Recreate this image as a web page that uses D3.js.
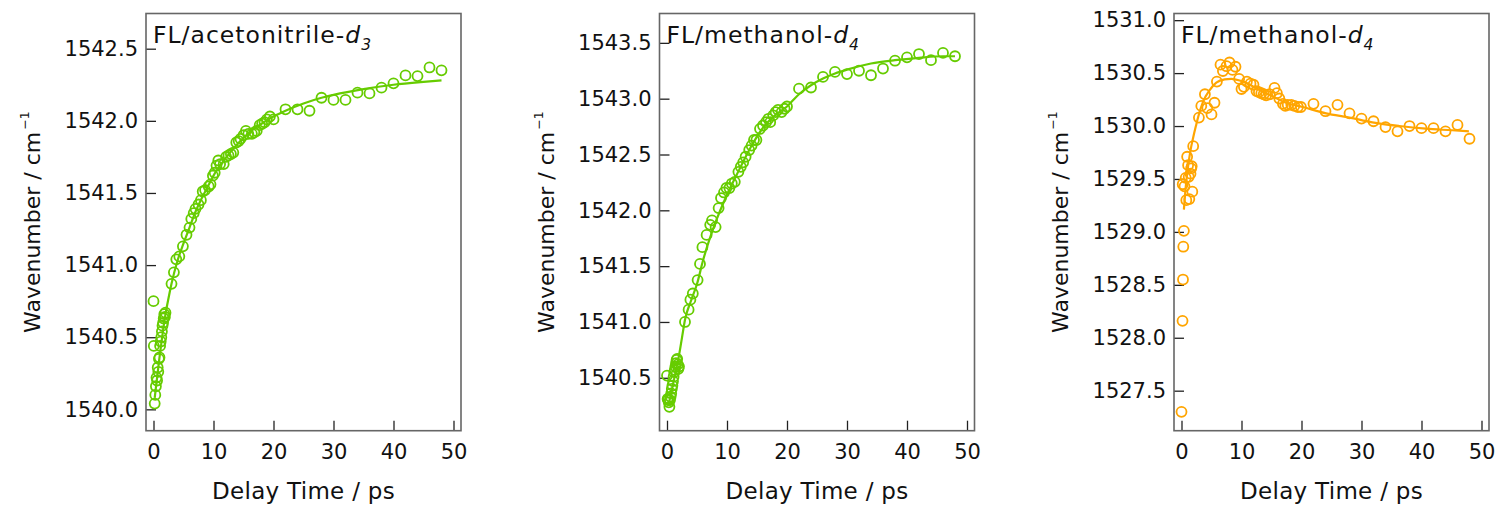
<!DOCTYPE html>
<html>
<head>
<meta charset="utf-8">
<script src="https://cdn.jsdelivr.net/npm/d3@7"></script>
<style>
  html, body { margin: 0; padding: 0; background: #fff; }
  svg { display: block; }
  text { font-family: "DejaVu Sans", sans-serif; fill: #111; }
</style>
</head>
<body>
<svg id="chart" width="1500" height="508"></svg>
<script>
// ---------------- DATA ----------------
const xTicks = [0, 10, 20, 30, 40, 50];

// Panel 1: FL / acetonitrile-d3
const acnTime = [0, 0.05, 0.2, 0.3, 0.4, 0.5, 0.6, 0.7, 0.8, 0.9, 1.0, 1.1, 1.2, 1.3, 1.4, 1.5, 1.6, 1.7, 1.8, 1.9, 2.0,
  3.0, 3.4, 3.8, 4.3, 4.9, 5.5, 6.0, 6.3, 6.7, 7.0, 7.5, 7.9, 8.2, 8.6, 9.2, 9.5, 9.9, 10.2, 10.5, 10.8,
  11.1, 11.7, 12.1, 12.5, 12.9, 13.3, 13.8, 14.2, 14.5, 15.0, 15.4, 15.8, 16.4, 16.8, 17.2, 17.7, 18.1, 18.5, 18.9, 19.4, 20.0,
  22, 24, 26, 28, 30, 32, 34, 36, 38, 40, 42, 44, 46, 48];
const acnValue = [1540.75, 1540.44, 1540.04, 1540.10, 1540.16, 1540.22, 1540.20, 1540.29, 1540.26, 1540.35, 1540.36, 1540.44, 1540.47, 1540.50, 1540.54, 1540.58, 1540.60, 1540.63, 1540.66, 1540.64, 1540.67,
  1540.87, 1540.95, 1541.04, 1541.06, 1541.13, 1541.21, 1541.26, 1541.32, 1541.36, 1541.39, 1541.42, 1541.45, 1541.51, 1541.52, 1541.545, 1541.56, 1541.62, 1541.64, 1541.69, 1541.725,
  1541.70, 1541.70, 1541.75, 1541.76, 1541.77, 1541.78, 1541.85, 1541.86, 1541.875, 1541.90, 1541.93, 1541.91, 1541.91, 1541.92, 1541.93, 1541.97, 1541.98, 1541.99, 1542.01, 1542.03, 1542.01,
  1542.08, 1542.08, 1542.07, 1542.16, 1542.145, 1542.145, 1542.195, 1542.19, 1542.23, 1542.26, 1542.315, 1542.31, 1542.37, 1542.35];
const acnFitTime = [0.2, 0.6, 1.0, 1.5, 2.0, 2.5, 3, 4, 5, 6, 7, 8, 9, 10, 12, 14, 16, 18, 20, 22, 25, 28, 30, 35, 40, 45, 48];
const acnFitValue = [1540.08, 1540.22, 1540.36, 1540.52, 1540.66, 1540.77, 1540.87, 1541.03, 1541.15, 1541.26, 1541.37, 1541.46, 1541.54, 1541.62, 1541.74, 1541.84, 1541.92, 1541.98, 1542.03, 1542.07, 1542.12, 1542.16, 1542.18, 1542.22, 1542.25, 1542.27, 1542.28];
const acnYTicks = [1540.0, 1540.5, 1541.0, 1541.5, 1542.0, 1542.5];

// Panel 2: FL / methanol-d4 (green)
const meoTime = [0, 0.1, 0.2, 0.3, 0.4, 0.5, 0.6, 0.7, 0.8, 0.9, 1.0, 1.1, 1.2, 1.3, 1.4, 1.5, 1.6, 1.7, 1.8, 1.9, 2.0,
  3.0, 3.6, 3.9, 4.3, 5.1, 5.5, 5.9, 6.6, 7.2, 7.5, 8.1, 8.6, 9.0, 9.5, 9.9, 10.4, 10.8, 11.3, 11.9, 12.3,
  12.7, 13.1, 13.7, 14.1, 14.5, 14.9, 15.5, 16.0, 16.5, 16.9, 17.2, 17.7, 18.1, 18.5, 19.1, 19.6, 20.0,
  22, 24, 26, 28, 30, 32, 34, 36, 38, 40, 42, 44, 46, 48];
const meoValue = [1540.52, 1540.31, 1540.30, 1540.28, 1540.24, 1540.30, 1540.33, 1540.36, 1540.40, 1540.43, 1540.47, 1540.51, 1540.55, 1540.57, 1540.60, 1540.63, 1540.66, 1540.67, 1540.62, 1540.58, 1540.60,
  1541.00, 1541.11, 1541.20, 1541.255, 1541.375, 1541.52, 1541.67, 1541.78, 1541.87, 1541.91, 1541.85, 1542.02, 1542.11, 1542.16, 1542.20, 1542.20, 1542.24, 1542.255, 1542.345, 1542.39,
  1542.43, 1542.48, 1542.54, 1542.58, 1542.63, 1542.63, 1542.73, 1542.76, 1542.79, 1542.82, 1542.79, 1542.85, 1542.88, 1542.90, 1542.88, 1542.91, 1542.93,
  1543.09, 1543.10, 1543.195, 1543.24, 1543.22, 1543.25, 1543.21, 1543.27, 1543.34, 1543.37, 1543.40, 1543.345, 1543.41, 1543.38];
const meoFitTime = [0.2, 0.6, 1.0, 1.5, 2.0, 2.5, 3, 4, 5, 6, 8, 10, 12, 14, 16, 18, 20, 22, 24, 26, 28, 30, 34, 38, 42, 46, 48];
const meoFitValue = [1540.25, 1540.34, 1540.44, 1540.57, 1540.70, 1540.86, 1541.02, 1541.19, 1541.34, 1541.55, 1541.88, 1542.14, 1542.36, 1542.57, 1542.74, 1542.85, 1542.93, 1543.04, 1543.12, 1543.18, 1543.225, 1543.26, 1543.315, 1543.345, 1543.366, 1543.38, 1543.38];
const meoYTicks = [1540.5, 1541.0, 1541.5, 1542.0, 1542.5, 1543.0, 1543.5];

// Panel 3: FL / methanol-d4 (orange)
const meo2Time = [0, 0.17, 0.25, 0.3, 0.4, 0.2, 0.5, 0.7, 0.8, 0.94, 1.1, 1.2, 1.3, 1.5, 1.6, 1.7, 1.8, 1.95,
  2.9, 3.3, 3.9, 4.3, 5.0, 5.5, 5.9, 6.5, 6.9, 7.5, 8.0, 8.5, 9.0, 9.6, 10.0, 10.4, 10.9, 11.5, 12.0, 12.5, 12.9,
  13.3, 13.7, 14.1, 14.7, 15.5, 15.9, 16.3, 16.9, 17.3, 17.7, 18.3, 18.8, 19.4, 19.9,
  22, 24, 26, 28, 30, 32, 34, 36, 38, 40, 42, 44, 46, 48];
const meo2Value = [1527.30, 1528.16, 1528.55, 1528.86, 1529.01, 1529.45, 1529.43, 1529.51, 1529.30, 1529.71, 1529.63, 1529.52, 1529.31, 1529.55, 1529.60, 1529.62, 1529.38, 1529.81,
  1530.08, 1530.19, 1530.30, 1530.17, 1530.11, 1530.22, 1530.42, 1530.58, 1530.52, 1530.565, 1530.60, 1530.53, 1530.56, 1530.445, 1530.35, 1530.37, 1530.42, 1530.40, 1530.39, 1530.33, 1530.32,
  1530.31, 1530.30, 1530.29, 1530.30, 1530.36, 1530.31, 1530.26, 1530.21, 1530.19, 1530.20, 1530.20, 1530.19, 1530.18, 1530.18,
  1530.21, 1530.14, 1530.20, 1530.12, 1530.07, 1530.045, 1529.99, 1529.95, 1530.00, 1529.98, 1529.98, 1529.95, 1530.01, 1529.88];
const meo2FitTime = [0.4, 0.7, 1.1, 1.5, 1.94, 2.4, 2.8, 3.6, 4.7, 5.8, 7.2, 8.3, 9.7, 11.4, 13, 15.2, 17.4, 20.2, 24.1, 28, 31.8, 36.3, 40.7, 45.1, 47.9];
const meo2FitValue = [1529.21, 1529.42, 1529.62, 1529.77, 1529.89, 1530.00, 1530.09, 1530.23, 1530.34, 1530.41, 1530.44, 1530.445, 1530.43, 1530.39, 1530.34, 1530.28, 1530.22, 1530.18, 1530.12, 1530.08, 1530.035, 1530.00, 1529.975, 1529.96, 1529.95];
const meo2YTicks = [1527.5, 1528.0, 1528.5, 1529.0, 1529.5, 1530.0, 1530.5, 1531.0];

const panels = [
  { solvent: "acetonitrile-", sub: "3", time: acnTime, value: acnValue, fitTime: acnFitTime, fitValue: acnFitValue,
    yTicks: acnYTicks, yDomain: [1539.852, 1542.744], color: "#66cc00", left: 146 },
  { solvent: "methanol-", sub: "4", time: meoTime, value: meoValue, fitTime: meoFitTime, fitValue: meoFitValue,
    yTicks: meoYTicks, yDomain: [1540.026, 1543.763], color: "#66cc00", left: 659.5 },
  { solvent: "methanol-", sub: "4", time: meo2Time, value: meo2Value, fitTime: meo2FitTime, fitValue: meo2FitValue,
    yTicks: meo2YTicks, yDomain: [1527.122, 1531.063], color: "#ffa500", left: 1174 }
];

// ---------------- DRAW ----------------
const svg = d3.select("#chart");
const W = 315, plotTop = 13.5, plotBottom = 430.7;

panels.forEach(p => {
  const x = d3.scaleLinear().domain([-1.25, 51.25]).range([p.left, p.left + W]);
  const y = d3.scaleLinear().domain(p.yDomain).range([plotBottom, plotTop]);
  const g = svg.append("g");

  // axes
  const xa = g.append("g").attr("transform", `translate(0,${plotBottom})`)
    .call(d3.axisBottom(x).tickValues(xTicks).tickSize(-10).tickPadding(13).tickFormat(d3.format("d")));
  const ya = g.append("g").attr("transform", `translate(${p.left},0)`)
    .call(d3.axisLeft(y).tickValues(p.yTicks).tickSize(-10).tickPadding(8).tickFormat(d3.format(".1f")));
  [xa, ya].forEach(a => {
    a.select(".domain").remove();
    a.selectAll(".tick line").attr("stroke", "#222").attr("stroke-width", 1.3);
    a.selectAll(".tick text").attr("font-size", 21).attr("font-family", "DejaVu Sans, sans-serif").attr("fill", "#111");
  });

  // frame
  g.append("rect").attr("x", p.left).attr("y", plotTop).attr("width", W).attr("height", plotBottom - plotTop)
    .attr("fill", "none").attr("stroke", "#666").attr("stroke-width", 1.6);

  // fit line
  const fit = p.fitTime.map((t, i) => [t, p.fitValue[i]]);
  g.append("path").datum(fit)
    .attr("d", d3.line().x(d => x(d[0])).y(d => y(d[1])).curve(d3.curveMonotoneX))
    .attr("fill", "none").attr("stroke", p.color).attr("stroke-width", 2.2);

  // markers
  const pts = p.time.map((t, i) => [t, p.value[i]]);
  g.selectAll("circle.pt").data(pts).enter().append("circle")
    .attr("class", "pt")
    .attr("cx", d => x(d[0])).attr("cy", d => y(d[1])).attr("r", 5)
    .attr("fill", "none").attr("stroke", p.color).attr("stroke-width", 1.8);

  // title
  const tt = g.append("text").attr("x", p.left + 7).attr("y", 43).attr("font-size", 23.5)
    .attr("letter-spacing", 1);
  tt.append("tspan").text("FL/" + p.solvent);
  tt.append("tspan").attr("font-style", "italic").text("d");
  tt.append("tspan").attr("font-style", "italic").attr("font-size", 15.5).attr("dy", 7).text(p.sub);

  // x label
  g.append("text").attr("x", p.left + W / 2).attr("y", 499).attr("text-anchor", "middle")
    .attr("font-size", 23).attr("letter-spacing", 0.3).text("Delay Time / ps");

  // y label
  const yl = g.append("text")
    .attr("transform", `translate(${p.left - 106},${(plotTop + plotBottom) / 2}) rotate(-90)`)
    .attr("text-anchor", "middle").attr("font-size", 22);
  yl.append("tspan").text("Wavenumber / cm");
  yl.append("tspan").attr("font-size", 12.5).attr("dx", 2).attr("dy", -11).text("−1");
});
</script>
</body>
</html>
